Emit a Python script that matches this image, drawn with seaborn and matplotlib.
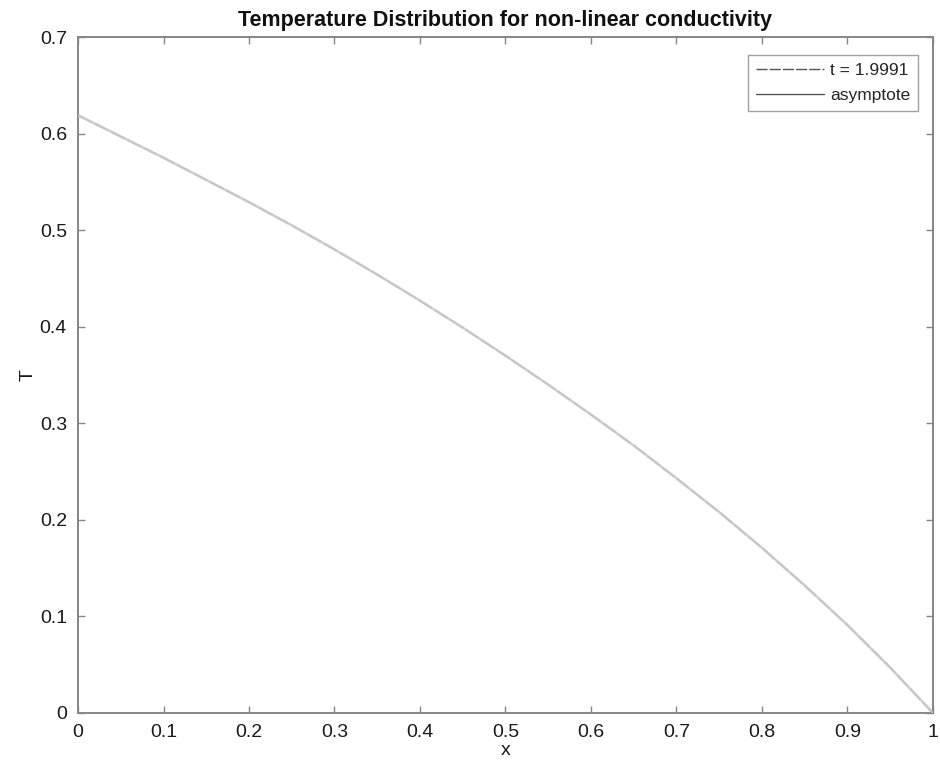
import matplotlib
matplotlib.use("Agg")
import matplotlib.pyplot as plt
import seaborn as sns
import pandas as pd

# Steady temperature profile across the slab
x_pos = [0.0, 0.05, 0.1, 0.15, 0.2, 0.25, 0.3, 0.35, 0.4, 0.45, 0.5,
         0.55, 0.6, 0.65, 0.7, 0.75, 0.8, 0.85, 0.9, 0.95, 1.0]
T_final = [0.619, 0.597, 0.575, 0.552, 0.529, 0.505, 0.480, 0.454, 0.427, 0.399, 0.370,
           0.340, 0.309, 0.277, 0.243, 0.208, 0.171, 0.132, 0.091, 0.047, 0.0]
T_asymptote = [0.619, 0.597, 0.575, 0.552, 0.529, 0.505, 0.480, 0.454, 0.427, 0.399, 0.370,
               0.340, 0.309, 0.277, 0.243, 0.208, 0.171, 0.132, 0.091, 0.047, 0.0]
series_labels = ["t = 1.9991", "asymptote"]

x_ticks = [0, 0.1, 0.2, 0.3, 0.4, 0.5, 0.6, 0.7, 0.8, 0.9, 1]
x_tick_labels = ["0", "0.1", "0.2", "0.3", "0.4", "0.5", "0.6", "0.7", "0.8", "0.9", "1"]
y_ticks = [0, 0.1, 0.2, 0.3, 0.4, 0.5, 0.6, 0.7]
y_tick_labels = ["0", "0.1", "0.2", "0.3", "0.4", "0.5", "0.6", "0.7"]

sns.set_style("white")
plt.rcParams["font.family"] = ["Liberation Sans", "DejaVu Sans"]

df_final = pd.DataFrame({"x": x_pos, "T": T_final})
df_asym = pd.DataFrame({"x": x_pos, "T": T_asymptote})

fig = plt.figure(figsize=(9.4, 7.72), dpi=100)
ax = fig.add_axes([0.083, 0.0765, 0.9095, 0.8755])

sns.lineplot(data=df_asym, x="x", y="T", ax=ax, color="#d0d0d0", lw=1.8,
             label=series_labels[1], zorder=2)
sns.lineplot(data=df_final, x="x", y="T", ax=ax, color="#c6c6c6", lw=1.4,
             label=series_labels[0], zorder=3, linestyle=(0, (8, 1.5)))

ax.set_xlim(0, 1)
ax.set_ylim(0, 0.7)
ax.set_xticks(x_ticks)
ax.set_xticklabels(x_tick_labels)
ax.set_yticks(y_ticks)
ax.set_yticklabels(y_tick_labels)

spine_col = "#868686"
for s in ax.spines.values():
    s.set_visible(True)
    s.set_color(spine_col)
    s.set_linewidth(1.4)

ax.tick_params(axis="both", which="both", direction="in", length=5, width=1.0,
               colors=spine_col, labelcolor="#1a1a1a", labelsize=14,
               top=True, right=True, bottom=True, left=True, pad=8)

ax.set_xlabel("x", fontsize=14, color="#1a1a1a", labelpad=1)
ax.set_ylabel("T", fontsize=14, color="#1a1a1a", labelpad=2)
ax.set_title("Temperature Distribution for non-linear conductivity",
             fontsize=15.5, fontweight="bold", color="#111111", pad=8)

handles, labels = ax.get_legend_handles_labels()
order = [labels.index(series_labels[0]), labels.index(series_labels[1])]
leg = ax.legend([handles[i] for i in order], [labels[i] for i in order],
                loc="upper right", fontsize=12.5, frameon=True, fancybox=False,
                edgecolor="#8a8a8a", handlelength=3.9, handletextpad=0.35,
                borderpad=0.45, labelspacing=0.55, borderaxespad=0,
                bbox_to_anchor=(0.9825, 0.973))
leg.get_frame().set_linewidth(1.0)
for h in leg.legend_handles:
    h.set_color("#555555")
    h.set_linewidth(1.0)
leg.legend_handles[0].set_linestyle((0, (8, 1.5)))

fig.savefig("out.png", dpi=100, facecolor="white")
